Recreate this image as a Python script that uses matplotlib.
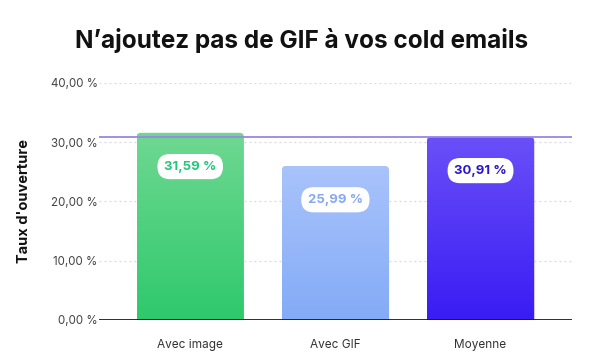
import numpy as np
import matplotlib.pyplot as plt
from matplotlib.patches import FancyBboxPatch
from matplotlib.colors import LinearSegmentedColormap

plt.rcParams['font.family'] = ['Inter', 'DejaVu Sans']

categories = ['Avec image', 'Avec GIF', 'Moyenne']
values = [31.59, 25.99, 30.91]
labels = ['31,59 %', '25,99 %', '30,91 %']
top_colors = ['#6fd892', '#a9c3fb', '#6a50f8']
bottom_colors = ['#2fc96c', '#84abf7', '#3a1cf4']
text_colors = ['#23c77a', '#86a9f2', '#2a17c9']
average = 30.91
yticks = [0, 10, 20, 30, 40]
ytick_labels = ['0,00 %', '10,00 %', '20,00 %', '30,00 %', '40,00 %']

fig = plt.figure(figsize=(6.04, 3.64), dpi=100)
ax = fig.add_axes([0.164, 0.121, 0.783, 0.651])
ax.set_xlim(-0.628, 2.63)
ax.set_ylim(0, 40)

for y in yticks[1:]:
    ax.axhline(y, color='#d6d9e2', lw=0.9, ls=(0, (1.5, 2.5)), zorder=1)

width = 0.74
aspect = (40 / 237) / (3.258 / 473)
for i, v in enumerate(values):
    x0 = i - width / 2
    patch = FancyBboxPatch((x0, -2), width, v + 2,
                           boxstyle='round,pad=0,rounding_size=0.03',
                           mutation_aspect=aspect, fc='none', ec='none', zorder=2)
    ax.add_patch(patch)
    cmap = LinearSegmentedColormap.from_list('g', [bottom_colors[i], top_colors[i]])
    grad = np.linspace(0, 1, 256).reshape(-1, 1)
    im = ax.imshow(grad, cmap=cmap, extent=(x0, x0 + width, 0, v), origin='lower',
                   aspect='auto', zorder=2)
    im.set_clip_path(patch)
    ax.text(i, v - 5.7, labels[i], ha='center', va='center', fontsize=9.5,
            fontweight='bold', color=text_colors[i], zorder=5,
            bbox=dict(boxstyle='round,pad=0.5,rounding_size=0.95', fc='white', ec='none'))

ax.axhline(average, color='#9a86e6', lw=1.3, zorder=3)
ax.axhline(0, color='#1a1a1a', lw=2, zorder=4)

ax.set_xticks(range(len(categories)))
ax.set_xticklabels(categories, fontsize=8.5, color='#333333')
ax.set_yticks(yticks)
ax.set_yticklabels(ytick_labels, fontsize=8.3, color='#444444')
ax.tick_params(length=0, pad=1)
ax.tick_params(axis='x', pad=14)
for s in ax.spines.values():
    s.set_visible(False)

ax.set_ylabel("Taux d'ouverture", fontsize=10.5, fontweight='bold', color='#111111', labelpad=14)
fig.text(0.5, 0.89, 'N\u2019ajoutez pas de GIF \u00e0 vos cold emails', ha='center', va='center',
         fontsize=17.5, fontweight='bold', color='#111111')

fig.savefig('out.png', dpi=100)
